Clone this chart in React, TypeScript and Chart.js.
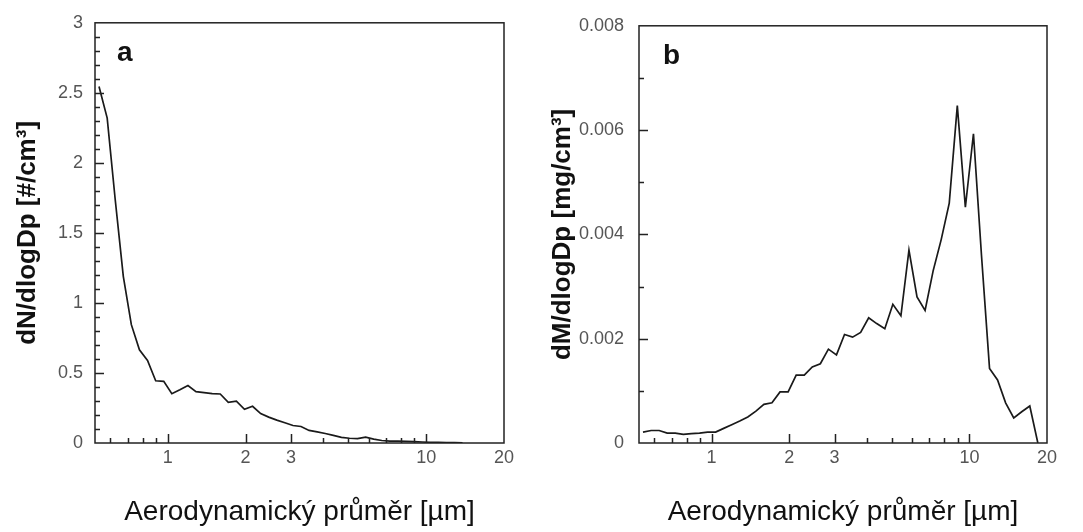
import React, { useEffect, useRef } from 'react';
import { Chart, registerables } from 'chart.js';

Chart.register(...registerables);

// APS channel mid-point diameters [µm]
const diameters = [
  0.542, 0.583, 0.626, 0.673, 0.723, 0.777, 0.835, 0.898, 0.965, 1.037,
  1.114, 1.197, 1.286, 1.382, 1.486, 1.596, 1.715, 1.843, 1.981, 2.129,
  2.288, 2.458, 2.642, 2.839, 3.051, 3.278, 3.523, 3.786, 4.068, 4.371,
  4.698, 5.048, 5.425, 5.829, 6.264, 6.732, 7.234, 7.774, 8.354, 8.977,
  9.647, 10.37, 11.14, 11.97, 12.86, 13.82, 14.86, 15.96, 17.15, 18.43,
];

// panel a: dN/dlogDp [#/cm3]
const numberConc = [
  2.545, 2.32, 1.74, 1.19, 0.845, 0.665, 0.59, 0.444, 0.44, 0.352,
  0.38, 0.41, 0.367, 0.36, 0.353, 0.35, 0.29, 0.298, 0.24, 0.262,
  0.21, 0.185, 0.163, 0.145, 0.125, 0.118, 0.09, 0.08, 0.068, 0.054,
  0.04, 0.034, 0.031, 0.042, 0.028, 0.018, 0.014, 0.013, 0.012, 0.01,
  0.007, 0.005, 0.004, 0.003, 0.002, 0.001,
];

// panel b: dM/dlogDp [mg/cm3]
const massConc = [
  0.00021, 0.00024, 0.00024, 0.00019, 0.00019, 0.000165, 0.00018, 0.00019, 0.00021, 0.00021,
  0.00028, 0.00035, 0.00042, 0.0005, 0.00061, 0.00074, 0.00077, 0.00098, 0.00098, 0.0013,
  0.0013, 0.00146, 0.00152, 0.0018, 0.00169, 0.00208, 0.00203, 0.00212, 0.0024, 0.00229,
  0.00219, 0.00266, 0.00244, 0.0037, 0.0028, 0.00254, 0.0033, 0.0039, 0.0046, 0.00647,
  0.00452, 0.00593, 0.0036, 0.00143, 0.00121, 0.00077, 0.00048, 0.0006, 0.00071, 0,
];

const xTickValues = [0.6, 0.7, 0.8, 0.9, 1, 2, 3, 4, 5, 6, 7, 8, 9, 10, 20];
const xTickLabels = ['', '', '', '', '1', '2', '3', '', '', '', '', '', '', '10', '20'];
const xMajorTicks = [1, 2, 3, 10];

const yMajorA = [0, 0.5, 1, 1.5, 2, 2.5, 3];
const yLabelsA = ['0', '0.5', '1', '1.5', '2', '2.5', '3'];
const yMinorA = [0.1, 0.2, 0.3, 0.4, 0.6, 0.7, 0.8, 0.9, 1.1, 1.2, 1.3, 1.4, 1.6, 1.7, 1.8, 1.9, 2.1, 2.2, 2.3, 2.4, 2.6, 2.7, 2.8, 2.9];

const yMajorB = [0, 0.002, 0.004, 0.006, 0.008];
const yLabelsB = ['0', '0.002', '0.004', '0.006', '0.008'];
const yMinorB = [0.001, 0.003, 0.005, 0.007];

const X_MIN = 0.523;
const X_MAX = 20;
const X_TITLE = 'Aerodynamický průměr [µm]';
const FONT = '"Liberation Sans", Arial, Helvetica, sans-serif';
const TICK_COLOR = '#555555';
const INK = '#1a1a1a';

const framePlugin = {
  id: 'frame',
  afterDraw(chart: any, _args: any, opts: any) {
    const { ctx, chartArea, scales } = chart;
    const { left, right, top, bottom } = chartArea;
    const xs = scales.x;
    const ys = scales.y;
    ctx.save();
    ctx.strokeStyle = '#222';
    ctx.lineWidth = 1.5;
    ctx.strokeRect(left, top, right - left, bottom - top);
    ctx.beginPath();
    for (const v of xTickValues) {
      if (v >= X_MAX) continue;
      const px = Math.round(xs.getPixelForValue(v)) + 0.5;
      const len = xMajorTicks.includes(v) ? 9 : 5;
      ctx.moveTo(px, bottom);
      ctx.lineTo(px, bottom - len);
    }
    for (const v of opts.yMajor) {
      if (v <= 0 || v >= opts.yMax) continue;
      const py = Math.round(ys.getPixelForValue(v)) + 0.5;
      ctx.moveTo(left, py);
      ctx.lineTo(left + 9, py);
    }
    for (const v of opts.yMinor) {
      const py = Math.round(ys.getPixelForValue(v)) + 0.5;
      ctx.moveTo(left, py);
      ctx.lineTo(left + 5, py);
    }
    ctx.stroke();
    ctx.fillStyle = '#111';
    ctx.font = `bold 28px ${FONT}`;
    ctx.textBaseline = 'alphabetic';
    ctx.textAlign = 'left';
    ctx.fillText(opts.letter, left + opts.letterDx, top + 38);
    ctx.restore();
  },
};

type PanelSpec = {
  values: number[];
  yMax: number;
  yMajor: number[];
  yLabels: string[];
  yMinor: number[];
  yTitle: string;
  letter: string;
  letterDx: number;
  yAxisWidth: number;
  rightPad: number;
  yLabelPad: number;
  yTitlePad: number;
};

function makeChart(canvas: HTMLCanvasElement, spec: PanelSpec) {
  return new Chart(canvas, {
    type: 'line',
    data: {
      datasets: [
        {
          data: spec.values.map((v, i) => ({ x: diameters[i], y: v })),
          borderColor: INK,
          borderWidth: 1.7,
          pointRadius: 0,
          tension: 0,
          fill: false,
        },
      ],
    },
    options: {
      responsive: false,
      animation: false,
      events: [],
      layout: { padding: { top: 19, right: spec.rightPad, left: 0, bottom: 0 } },
      plugins: {
        legend: { display: false },
        tooltip: { enabled: false },
        frame: {
          yMajor: spec.yMajor,
          yMinor: spec.yMinor,
          yMax: spec.yMax,
          letter: spec.letter,
          letterDx: spec.letterDx,
        },
      } as any,
      scales: {
        x: {
          type: 'logarithmic',
          position: 'bottom',
          min: X_MIN,
          max: X_MAX,
          bounds: 'data',
          afterBuildTicks: (s: any) => {
            s.ticks = xTickValues.map((v) => ({ value: v }));
          },
          afterFit: (s: any) => {
            s.height = 89;
          },
          grid: { display: false, drawTicks: false },
          border: { display: false },
          ticks: {
            autoSkip: false,
            maxRotation: 0,
            minRotation: 0,
            padding: 4,
            color: TICK_COLOR,
            font: { family: FONT, size: 18 },
            callback: (_v: any, i: number) => xTickLabels[i],
          },
          title: {
            display: true,
            text: X_TITLE,
            color: '#111',
            font: { family: FONT, size: 28 },
            padding: { top: 0, bottom: 3 },
          },
        },
        y: {
          type: 'linear',
          min: 0,
          max: spec.yMax,
          afterBuildTicks: (s: any) => {
            s.ticks = spec.yMajor.map((v) => ({ value: v }));
          },
          afterFit: (s: any) => {
            s.width = spec.yAxisWidth;
          },
          grid: { display: false, drawTicks: false },
          border: { display: false },
          ticks: {
            autoSkip: false,
            padding: spec.yLabelPad,
            color: TICK_COLOR,
            font: { family: FONT, size: 18 },
            callback: (_v: any, i: number) => spec.yLabels[i],
          },
          title: {
            display: true,
            text: spec.yTitle,
            color: '#111',
            font: { family: FONT, size: 26, weight: 'bold' },
            padding: { top: spec.yTitlePad, bottom: 0 },
          },
        },
      },
    } as any,
    plugins: [framePlugin as any],
  });
}

export default function App() {
  const refA = useRef<HTMLCanvasElement>(null);
  const refB = useRef<HTMLCanvasElement>(null);

  useEffect(() => {
    const a = makeChart(refA.current!, {
      values: numberConc,
      yMax: 3,
      yMajor: yMajorA,
      yLabels: yLabelsA,
      yMinor: yMinorA,
      yTitle: 'dN/dlogDp [#/cm³]',
      letter: 'a',
      letterDx: 22,
      yAxisWidth: 95,
      rightPad: 37,
      yLabelPad: 12,
      yTitlePad: 12,
    });
    const b = makeChart(refB.current!, {
      values: massConc,
      yMax: 0.008,
      yMajor: yMajorB,
      yLabels: yLabelsB,
      yMinor: yMinorB,
      yTitle: 'dM/dlogDp [mg/cm³]',
      letter: 'b',
      letterDx: 24,
      yAxisWidth: 98,
      rightPad: 36,
      yLabelPad: 15,
      yTitlePad: 6,
    });
    return () => {
      a.destroy();
      b.destroy();
    };
  }, []);

  return (
    <div style={{ position: 'absolute', left: 0, top: 0, width: 1083, height: 532, background: '#fff', overflow: 'hidden' }}>
      <canvas ref={refA} width={541} height={532} style={{ position: 'absolute', left: 0, top: 0, width: 541, height: 532 }} />
      <canvas ref={refB} width={542} height={532} style={{ position: 'absolute', left: 541, top: 0, width: 542, height: 532 }} />
    </div>
  );
}
